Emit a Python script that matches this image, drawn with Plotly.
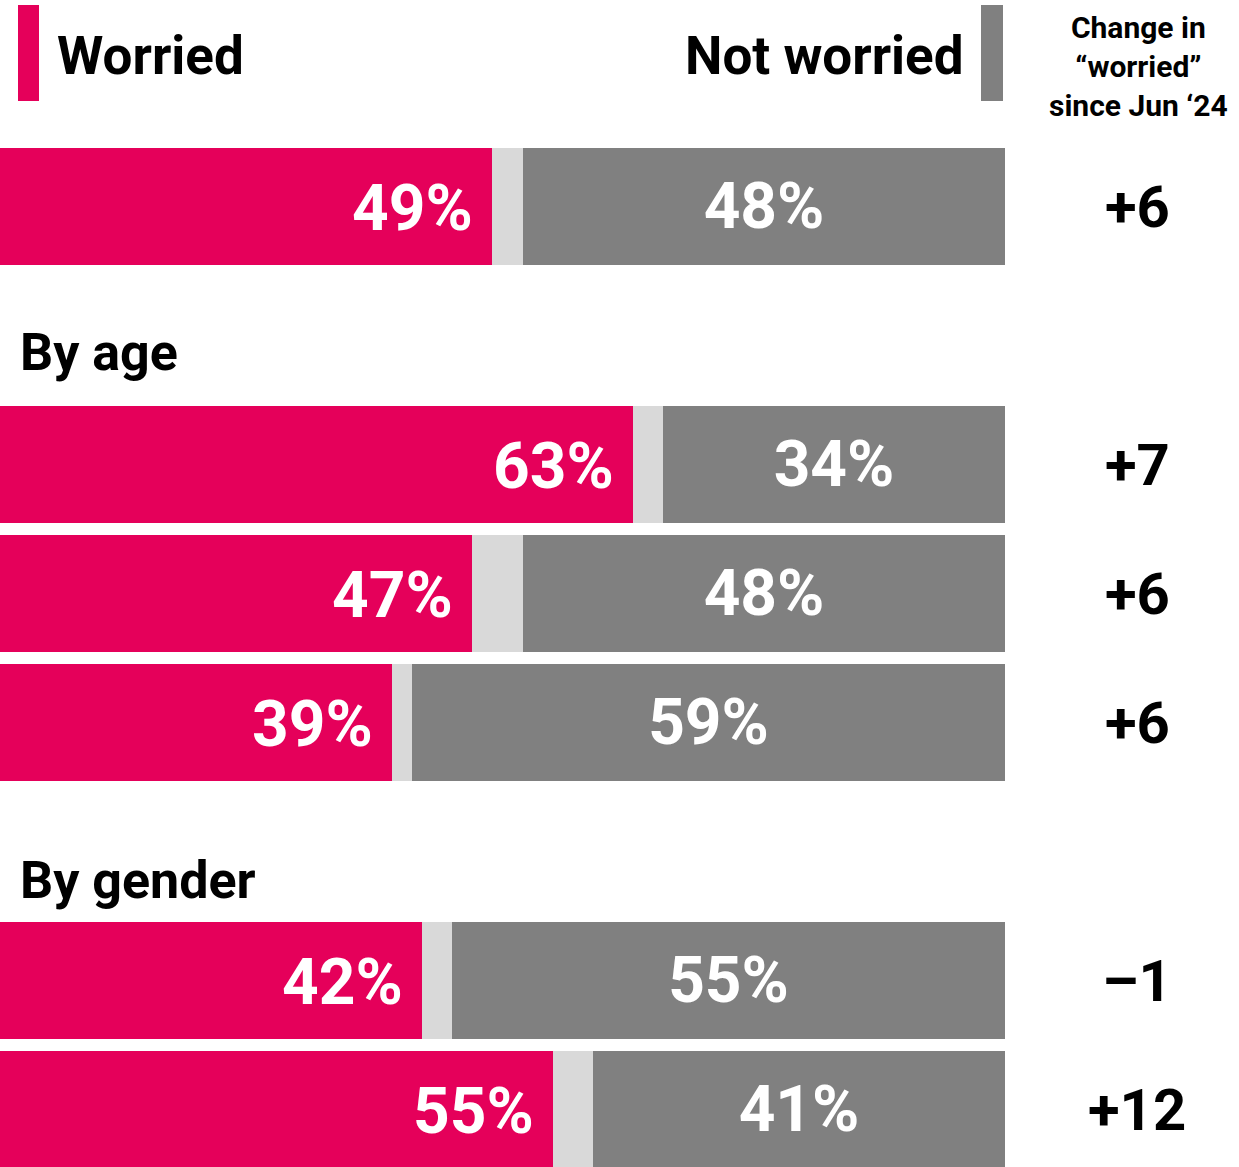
import plotly.graph_objects as go

# rows top to bottom; "gap" rows hold the section headers
ROWS = ['All', 'gap_age', '18-34', '35-54', '55+', 'gap_gender', 'Men', 'Women']
BAR_ROWS = ['All', '18-34', '35-54', '55+', 'Men', 'Women']
WORRIED = [49, 63, 47, 39, 42, 55]
NOT_WORRIED = [48, 34, 48, 59, 55, 41]
CHANGE = ['+6', '+7', '+6', '+6', '\u20131', '+12']
SECTIONS = ['gap_age', 'gap_gender']
SECTION_TITLES = ['By age', 'By gender']

NEITHER = [100 - w - n for w, n in zip(WORRIED, NOT_WORRIED)]

RED = '#E5005A'
LIGHT = '#D9D9D9'
GREY = '#808080'
FONT = 'Roboto, Arial, sans-serif'

W, H = 1239, 1167
PLOT_R = 1005   # right edge of bars, px
TOP = 142       # top of plot area, px


def px(x):
    return x / PLOT_R


def py(y):
    return (H - y) / (H - TOP)


fig = go.Figure()
bar_w = 117 / 129
fig.add_trace(go.Bar(y=BAR_ROWS, x=WORRIED, orientation='h', marker_color=RED,
                     width=bar_w, name='Worried', hoverinfo='skip'))
fig.add_trace(go.Bar(y=BAR_ROWS, x=NEITHER, orientation='h', marker_color=LIGHT,
                     width=bar_w, name='Neither', hoverinfo='skip'))
fig.add_trace(go.Bar(y=BAR_ROWS, x=NOT_WORRIED, orientation='h', marker_color=GREY,
                     width=bar_w, name='Not worried', hoverinfo='skip',
                     text=[f'{v}%' for v in NOT_WORRIED], textposition='inside',
                     insidetextanchor='middle', constraintext='none',
                     textfont=dict(family=FONT, size=64, color='white', weight=700)))
for trace in fig.data:
    trace.marker.line.width = 0

annos = []
# worried labels, right aligned inside red bar
for r, w in zip(BAR_ROWS, WORRIED):
    annos.append(dict(x=w, y=r, xref='x', yref='y', text=f'{w}%', showarrow=False,
                      xanchor='right', yanchor='middle', xshift=-17, yshift=-2,
                      font=dict(family=FONT, size=64, color='white', weight=700)))
# change column
for r, c in zip(BAR_ROWS, CHANGE):
    annos.append(dict(x=px(1137), y=r, xref='paper', yref='y', text=c, showarrow=False,
                      xanchor='center', yanchor='middle',
                      font=dict(family=FONT, size=58, color='black', weight=700)))
# section headers
for r, t, shift in zip(SECTIONS, SECTION_TITLES, [-17, -29]):
    annos.append(dict(x=px(18), y=r, xref='paper', yref='y', text=t, showarrow=False,
                      xanchor='left', yanchor='middle', yshift=shift,
                      font=dict(family=FONT, size=52, color='black', weight=700)))

annos += [
    dict(x=px(55), y=py(56), xref='paper', yref='paper', text='Worried', showarrow=False,
         xanchor='left', yanchor='middle',
         font=dict(family=FONT, size=53, color='black', weight=700)),
    dict(x=px(966), y=py(56), xref='paper', yref='paper', text='Not worried', showarrow=False,
         xanchor='right', yanchor='middle',
         font=dict(family=FONT, size=53, color='black', weight=700)),
    dict(x=px(1138), y=py(67), xref='paper', yref='paper',
         text='Change in<br>\u201cworried\u201d<br>since Jun \u201824', showarrow=False,
         xanchor='center', yanchor='middle', align='center',
         font=dict(family=FONT, size=30, color='black', weight=700)),
]

shapes = [
    dict(type='rect', xref='paper', yref='paper', x0=px(18), x1=px(39), y0=py(101), y1=py(5),
         fillcolor=RED, line_width=0),
    dict(type='rect', xref='paper', yref='paper', x0=px(981), x1=px(1003), y0=py(101), y1=py(5),
         fillcolor=GREY, line_width=0),
]

span = (H - TOP) / 129
fig.update_layout(
    barmode='stack',
    width=W, height=H,
    margin=dict(l=0, r=W - PLOT_R, t=TOP, b=0, pad=0),
    paper_bgcolor='white', plot_bgcolor='white',
    showlegend=False,
    bargap=0,
    annotations=annos,
    shapes=shapes,
    xaxis=dict(range=[0, 100], visible=False, fixedrange=True),
    yaxis=dict(type='category', categoryorder='array', categoryarray=ROWS,
               range=[-0.5 + span, -0.5], visible=False, fixedrange=True),
)

fig.write_html('out.html', config={'displayModeBar': False},
               post_script="document.body.style.margin='0';document.body.style.overflow='hidden';")
